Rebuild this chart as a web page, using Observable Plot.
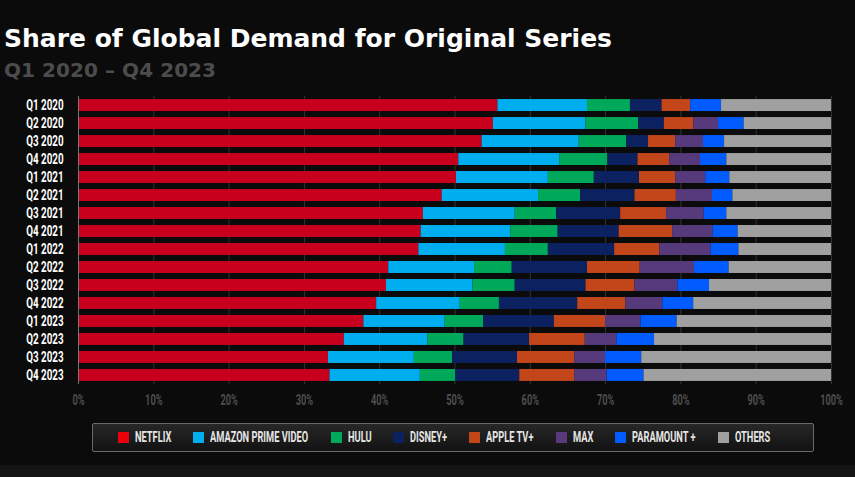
<!DOCTYPE html>
<html>
<head>
<meta charset="utf-8">
<script src="https://cdn.jsdelivr.net/npm/d3@7"></script>
<script src="https://cdn.jsdelivr.net/npm/@observablehq/plot@0.6"></script>
<style>
  html, body { margin: 0; padding: 0; background: #0b0b0b; }
  body { width: 855px; height: 477px; overflow: hidden; position: relative; }
  .cond { font-family: Roboto, "Liberation Sans", sans-serif; font-weight: bold; }
  #title { position: absolute; left: 4px; top: 24px; margin: 0; color: #fff; font-family: "DejaVu Sans", sans-serif; font-weight: 700; font-size: 25px; line-height: 30px; white-space: nowrap; }
  #subtitle { position: absolute; left: 4px; top: 57px; margin: 0; color: #4c4c4c; font-family: "DejaVu Sans", sans-serif; font-weight: 700; font-size: 20px; line-height: 26px; white-space: nowrap; }
  #chart { position: absolute; left: 0; top: 88px; }
  #legend { position: absolute; left: 92px; top: 423px; width: 695px; height: 27px; border: 1px solid #6a6a6a; border-radius: 2px; padding-left: 25px;
            background: linear-gradient(#272727, #121212); display: flex; align-items: center; justify-content: flex-start; gap: 22px; box-sizing: content-box; }
  .item { display: flex; align-items: center; gap: 6px; color: #e6e6e6; font-size: 14.5px; white-space: nowrap; }
  .item .txt { display: inline-block; transform-origin: 0 50%; white-space: nowrap; }
  .sw { width: 11px; height: 11px; display: inline-block; flex: none; }
  #footer { position: absolute; left: 0; top: 465px; width: 855px; height: 12px; background: #141414; }
</style>
</head>
<body>
<div id="title">Share of Global Demand for Original Series</div>
<div id="subtitle">Q1 2020 – Q4 2023</div>
<div id="chart"></div>
<div id="legend" class="cond"></div>
<div id="footer"></div>
<script>
const quarters = ["Q1 2020","Q2 2020","Q3 2020","Q4 2020","Q1 2021","Q2 2021","Q3 2021","Q4 2021",
                  "Q1 2022","Q2 2022","Q3 2022","Q4 2022","Q1 2023","Q2 2023","Q3 2023","Q4 2023"];
const seriesNames = ["NETFLIX","AMAZON PRIME VIDEO","HULU","DISNEY+","APPLE TV+","MAX","PARAMOUNT +","OTHERS"];
const seriesColors = ["#c8001e","#00aeef","#00a85a","#0b2160","#c3451a","#563a7c","#005cff","#a0a0a0"];
const legendColors = ["#e8000b","#00aeef","#00a85a","#0b2160","#c3451a","#563a7c","#005cff","#a0a0a0"];

const netflix   = [55.7,55.1,53.6,50.5,50.2,48.3,45.8,45.5,45.2,41.2,40.9,39.6,37.9,35.3,33.2,33.4];
const amazon    = [11.9,12.3,12.9,13.4,12.2,12.8,12.2,11.9,11.5,11.4,11.5,11.1,10.8,11.1,11.4,12.0];
const hulu      = [ 5.7, 7.0, 6.3, 6.4, 6.1, 5.6, 5.5, 6.3, 5.7, 5.0, 5.6, 5.2, 5.1, 4.8, 5.1, 4.7];
const disney    = [ 4.2, 3.4, 2.9, 4.0, 6.0, 7.2, 8.5, 8.1, 8.8,10.0, 9.4,10.4, 9.4, 8.7, 8.6, 8.5];
const appletv   = [ 3.8, 3.9, 3.6, 4.2, 4.8, 5.5, 6.1, 7.1, 6.0, 7.0, 6.5, 6.4, 6.8, 7.4, 7.6, 7.3];
const max       = [ 0.0, 3.3, 3.7, 4.1, 4.0, 4.8, 5.0, 5.4, 6.8, 7.2, 5.7, 4.9, 4.7, 4.2, 4.1, 4.3];
const paramount = [ 4.1, 3.4, 2.8, 3.5, 3.2, 2.7, 3.0, 3.3, 3.7, 4.6, 4.2, 4.1, 4.8, 5.0, 4.8, 4.9];
const others    = [14.6,11.6,14.2,13.9,13.5,13.1,13.9,12.4,12.3,13.6,16.2,18.3,20.5,23.5,25.2,24.9];

const xTicks = [0,10,20,30,40,50,60,70,80,90,100];

const seriesValues = [netflix, amazon, hulu, disney, appletv, max, paramount, others];
const rows = [];
quarters.forEach((q, i) => {
  seriesNames.forEach((s, j) => {
    rows.push({quarter: q, series: s, value: seriesValues[j][i]});
  });
});

const baseFont = 'Roboto, "Liberation Sans", sans-serif';

const chart = Plot.plot({
  width: 855,
  height: 327,
  marginLeft: 78,
  marginRight: 24,
  marginTop: 8,
  marginBottom: 31,
  style: {background: "transparent", fontFamily: baseFont, overflow: "visible"},
  x: {domain: [0, 100], ticks: xTicks, tickFormat: d => d + "%", label: null},
  y: {domain: quarters, paddingInner: 0.335, paddingOuter: 0.17, round: false, label: null},
  color: {domain: seriesNames, range: seriesColors},
  marks: [
    Plot.gridX(xTicks, {stroke: "#333", strokeOpacity: 1, strokeWidth: 1}),
    Plot.barX(rows, {x: "value", y: "quarter", fill: "series", order: seriesNames}),
    Plot.ruleX([0], {stroke: "#777", strokeWidth: 1}),
    Plot.axisX(xTicks, {tickSize: 0, tickPadding: 11, tickFormat: d => d + "%", fill: "#4e4e4e", fontSize: 14, fontWeight: "bold", label: null}),
    Plot.axisY(quarters, {tickSize: 0, tickPadding: 15, fill: "#fff", fontSize: 14, fontWeight: "bold", label: null})
  ]
});
document.getElementById("chart").appendChild(chart);

// condense axis labels to mimic the narrow typeface
function condenseGroup(sel, k) {
  chart.querySelectorAll(sel).forEach(t => {
    const w = t.getComputedTextLength();
    t.setAttribute("textLength", (w * k).toFixed(2));
    t.setAttribute("lengthAdjust", "spacingAndGlyphs");
  });
}
condenseGroup('g[aria-label="y-axis tick label"] text', 0.70);
condenseGroup('g[aria-label="x-axis tick label"] text', 0.66);

// fit heading texts to the reference widths
function fitWidth(el, target) {
  const w = el.getBoundingClientRect().width;
  const n = el.textContent.length - 1;
  el.style.letterSpacing = ((target - w) / n).toFixed(3) + "px";
}
fitWidth(document.getElementById("title"), 608);
fitWidth(document.getElementById("subtitle"), 212);

const legend = document.getElementById("legend");
const lk = 0.64;
seriesNames.forEach((s, j) => {
  const item = document.createElement("div");
  item.className = "item";
  const sw = document.createElement("span");
  sw.className = "sw";
  sw.style.background = legendColors[j];
  const wrap = document.createElement("span");
  wrap.style.display = "inline-block";
  wrap.style.overflow = "visible";
  const t = document.createElement("span");
  t.className = "txt";
  t.textContent = s;
  wrap.appendChild(t);
  item.appendChild(sw);
  item.appendChild(wrap);
  legend.appendChild(item);
  const w = t.getBoundingClientRect().width;
  wrap.style.width = (w * lk).toFixed(2) + "px";
  t.style.transform = `scaleX(${lk})`;
});
</script>
</body>
</html>
